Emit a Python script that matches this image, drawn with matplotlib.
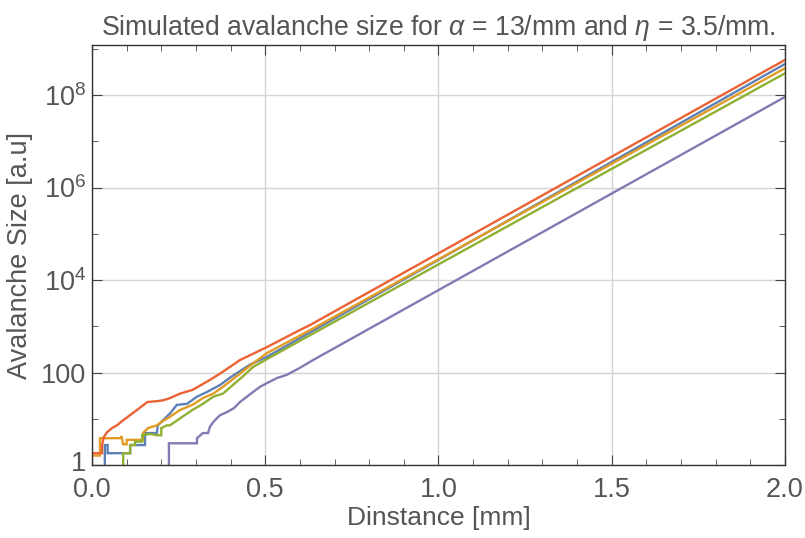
import numpy as np
import matplotlib
matplotlib.use('Agg')
import matplotlib.pyplot as plt
from matplotlib.ticker import FixedLocator, FixedFormatter, NullFormatter
from matplotlib.transforms import ScaledTranslation

plt.rcParams['font.family'] = ['Liberation Sans', 'DejaVu Sans']
plt.rcParams['mathtext.fontset'] = 'custom'
plt.rcParams['mathtext.rm'] = 'Liberation Sans'
plt.rcParams['mathtext.it'] = 'Liberation Sans:italic'
plt.rcParams['mathtext.bf'] = 'Liberation Sans:bold'

# Distance [mm] and avalanche size (five simulated runs)
blue_x = [0.037, 0.037, 0.045, 0.045, 0.11, 0.11, 0.153, 0.153, 0.187, 0.19, 0.2, 0.225, 0.245, 0.274,
          0.303, 0.332, 0.37, 0.4, 0.427, 0.456, 0.505, 0.63, 2.0]
blue_n = [1.0, 2.7, 2.7, 1.8, 1.8, 2.7, 2.7, 4.9, 4.9, 7.2, 8.5, 13, 20, 21,
          30, 38, 54, 79, 107, 148, 219, 740, 4.7e8]

orange_x = [0.0, 0.023, 0.023, 0.081, 0.085, 0.09, 0.1, 0.1, 0.147, 0.147, 0.162, 0.187, 0.2, 0.225,
            0.254, 0.29, 0.32, 0.35, 0.378, 0.407, 0.436, 0.465, 0.505, 0.63, 2.0]
orange_n = [1.6, 1.6, 3.8, 3.8, 4.2, 2.8, 2.8, 3.5, 3.5, 4.9, 6.3, 7.2, 8.5, 11,
            15.5, 20, 28, 35, 49, 72, 107, 158, 263, 830, 3.8e8]

green_x = [0.09, 0.09, 0.11, 0.11, 0.124, 0.124, 0.145, 0.145, 0.167, 0.187, 0.2, 0.2, 0.216, 0.225,
           0.254, 0.29, 0.32, 0.35, 0.378, 0.407, 0.436, 0.465, 0.505, 0.63, 2.0]
green_n = [1.0, 1.8, 1.8, 2.7, 2.7, 3.2, 3.2, 4.4, 4.7, 4.4, 4.4, 6.3, 7.2, 7.2,
           10.2, 15.5, 21, 30, 35, 54, 83, 132, 195, 645, 2.95e8]

red_x = [0.0, 0.029, 0.029, 0.034, 0.043, 0.058, 0.072, 0.09, 0.11, 0.13, 0.145, 0.16, 0.187, 0.205, 0.225,
         0.254, 0.29, 0.34, 0.37, 0.4, 0.427, 0.505, 0.6, 0.63, 2.0]
red_n = [1.8, 1.8, 2.7, 4.0, 5.1, 6.3, 7.2, 9.3, 12, 15.5, 19, 23, 24, 25, 28,
         35, 42, 69, 95, 135, 186, 355, 830, 1070, 5.75e8]

purple_x = [0.222, 0.222, 0.303, 0.303, 0.32, 0.335, 0.34, 0.35, 0.36, 0.37, 0.39, 0.41, 0.427, 0.447,
            0.465, 0.485, 0.505, 0.534, 0.562, 0.6, 0.638, 2.0]
purple_n = [1.0, 2.95, 2.95, 3.8, 4.9, 4.9, 6.6, 8.5, 10.2, 12, 14, 17, 23, 30,
            38, 49, 59, 76, 89, 126, 186, 9.1e7]

series = [
    (blue_x, blue_n, '#5E81B5'),
    (orange_x, orange_n, '#E19C24'),
    (green_x, green_n, '#8FB032'),
    (red_x, red_n, '#EB6235'),
    (purple_x, purple_n, '#8778B3'),
]

y_ticks = [1, 100, 1e4, 1e6, 1e8]
y_labels = ['1', '100', '$10^{4}$', '$10^{6}$', '$10^{8}$']
x_ticks = [0.0, 0.5, 1.0, 1.5, 2.0]
x_labels = ['0.0', '0.5', '1.0', '1.5', '2.0']

fig = plt.figure(figsize=(8.05, 5.38), dpi=100)
ax = fig.add_axes([0.1143, 0.1357, 0.8607, 0.7803])

for xs, ns, c in series:
    ax.plot(xs, ns, color=c, lw=1.7, solid_joinstyle='miter')

ax.set_yscale('log')
ax.set_xlim(0, 2.0)
ax.set_ylim(1, 1.2e9)

ax.yaxis.set_major_locator(FixedLocator(y_ticks))
ax.yaxis.set_major_formatter(FixedFormatter(y_labels))
ax.yaxis.set_minor_locator(FixedLocator([10, 1e3, 1e5, 1e7, 1e9]))
ax.yaxis.set_minor_formatter(NullFormatter())
ax.xaxis.set_major_locator(FixedLocator(x_ticks))
ax.xaxis.set_major_formatter(FixedFormatter(x_labels))
ax.xaxis.set_minor_locator(FixedLocator([i / 10 for i in range(1, 20) if i % 5]))
ax.xaxis.set_minor_formatter(NullFormatter())

txt = '#555555'
ax.grid(True, which='major', color='#d4d4d4', lw=1.0)
ax.tick_params(which='both', direction='in', top=True, right=True, colors='#444444',
               labelcolor=txt, labelsize=19.5)
ax.tick_params(which='major', length=7, width=0.8)
ax.tick_params(which='minor', length=4, width=0.6)
ax.tick_params(axis='x', pad=9)
ax.tick_params(axis='y', pad=4)
for s in ax.spines.values():
    s.set_color('#333333')
    s.set_linewidth(1.0)

# nudge the "1" label up a little so it clears "0.0"
fig.canvas.draw()
lbl = ax.get_yticklabels()[0]
lbl.set_transform(lbl.get_transform() + ScaledTranslation(0, 4 / 100, fig.dpi_scale_trans))

ax.set_xlabel('Dinstance [mm]', fontsize=19, color=txt, labelpad=2)
ax.set_ylabel('Avalanche Size [a.u]', fontsize=19.5, color=txt, labelpad=6)
ax.set_title(r'Simulated avalanche size for $\alpha$ = 13/mm and $\eta$ = 3.5/mm.',
             fontsize=19.2, color=txt, pad=7)

fig.savefig('out.png', dpi=100)
